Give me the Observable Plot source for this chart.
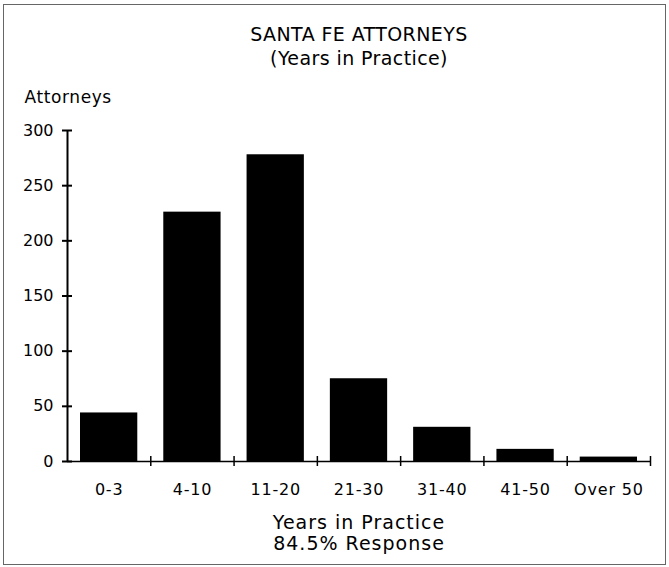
<!DOCTYPE html>
<html>
<head>
<meta charset="utf-8">
<script src="https://cdn.jsdelivr.net/npm/d3@7"></script>
<script src="https://cdn.jsdelivr.net/npm/@observablehq/plot@0.6"></script>
<style>
  html, body { margin: 0; padding: 0; background: #fff; }
  #wrap { position: relative; width: 669px; height: 567px; }
  #border { position: absolute; left: 3px; top: 4px; width: 661px; height: 559px; border: 1px solid #666; pointer-events: none; }
  svg { font-family: "DejaVu Sans", sans-serif; }
  .title text { letter-spacing: 0.4px; }
  .xtitle text { letter-spacing: 1px; }
  .ylab text { letter-spacing: 0.6px; }
  [aria-label="x-axis tick label"] text { letter-spacing: 0.8px; }
</style>
</head>
<body>
<div id="wrap"><div id="border"></div></div>
<script>
const categories = ["0-3", "4-10", "11-20", "21-30", "31-40", "41-50", "Over 50"];
const attorneys = [44, 226, 278, 75, 31, 11, 4];
const yTicks = [0, 50, 100, 150, 200, 250, 300];
const titleLines = ["SANTA FE ATTORNEYS", "(Years in Practice)"];
const yLabel = "Attorneys";
const xTitleLines = ["Years in Practice", "84.5% Response"];

const data = categories.map((c, i) => ({i, category: c, value: attorneys[i]}));
const boundaries = categories.map((_, i) => i + 1);
const centers = categories.map((_, i) => i + 0.5);

const chart = Plot.plot({
  width: 669,
  height: 567,
  marginTop: 130,
  marginBottom: 106,
  marginLeft: 67,
  marginRight: 19,
  style: {fontFamily: "DejaVu Sans, sans-serif", fontSize: "16px", color: "#000", background: "transparent"},
  x: {type: "linear", domain: [0, categories.length], axis: null},
  y: {domain: [0, 300], axis: null},
  marks: [
    Plot.rectY(data, {x1: d => d.i, x2: d => d.i + 1, y: "value", fill: "#000", insetLeft: 13, insetRight: 13}),
    // axis lines
    Plot.ruleY([0], {x1: 0, x2: categories.length, stroke: "#000", strokeWidth: 1.5}),
    Plot.ruleX([0], {y1: 0, y2: 300, stroke: "#000", strokeWidth: 2}),
    // y ticks crossing axis
    Plot.ruleY(yTicks, {y: d => d, x1: 0, x2: 0, insetLeft: 5, insetRight: 5, stroke: "#000", strokeWidth: 2}),
    // x boundary ticks crossing axis
    Plot.ruleX(boundaries, {x: d => d, y1: 0, y2: 0, insetTop: 5, insetBottom: 5, stroke: "#000", strokeWidth: 1.5}),
    Plot.axisY({ticks: yTicks, tickSize: 0, tickPadding: 14, fontSize: 16, label: null}),
    Plot.axisX({ticks: centers, tickFormat: d => categories[Math.floor(d)], tickSize: 0, tickPadding: 22, fontSize: 16, label: null}),
    Plot.text([yLabel], {frameAnchor: "top-left", text: d => d, textAnchor: "start", dx: -43, dy: -33, lineAnchor: "middle", fontSize: 17, className: "ylab"}),
    Plot.text([titleLines[0]], {frameAnchor: "top", text: d => d, dy: -95.5, lineAnchor: "middle", fontSize: 19, className: "title"}),
    Plot.text([titleLines[1]], {frameAnchor: "top", text: d => d, dy: -71.5, lineAnchor: "middle", fontSize: 19, className: "title"}),
    Plot.text([xTitleLines[0]], {frameAnchor: "bottom", text: d => d, dy: 61, lineAnchor: "middle", fontSize: 19, className: "xtitle"}),
    Plot.text([xTitleLines[1]], {frameAnchor: "bottom", text: d => d, dy: 82, lineAnchor: "middle", fontSize: 19, className: "xtitle"})
  ]
});
document.getElementById("wrap").prepend(chart);
</script>
</body>
</html>
